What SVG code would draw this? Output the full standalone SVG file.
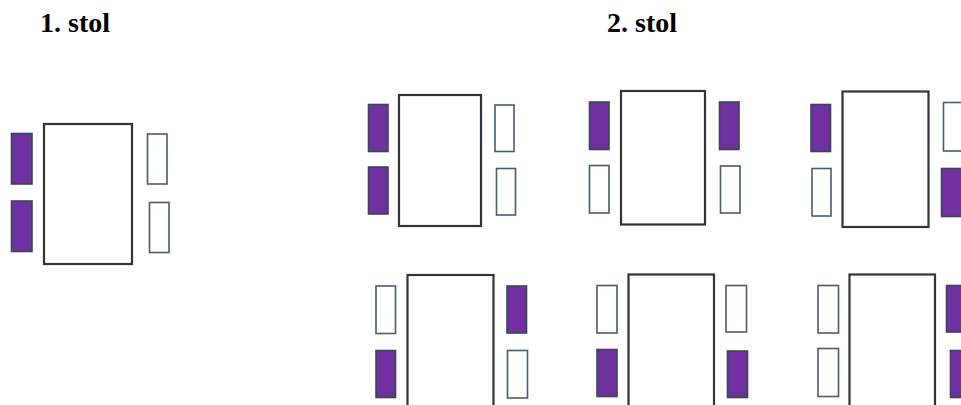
<svg xmlns="http://www.w3.org/2000/svg" width="961" height="405" viewBox="0 0 961 405">
<style>
.t{fill:#fff;stroke:#333;stroke-width:2.2}
.p{fill:#7030A0;stroke:#3a4658;stroke-width:1.6}
.w{fill:#fff;stroke:#4a5a70;stroke-width:1.6}
.lbl{font-family:"Liberation Serif","Times New Roman",serif;font-weight:bold;font-size:28px;fill:#000}
</style>
<rect width="961" height="405" fill="#fff"/>
<text class="lbl" x="40" y="32">1. stol</text>
<text class="lbl" x="607" y="32">2. stol</text>
<g id="table1">
<rect class="t" x="44" y="124" width="88" height="140"/>
<rect class="p" x="11.5" y="133.5" width="20.5" height="50.5"/>
<rect class="p" x="11.5" y="201" width="20.5" height="50.5"/>
<rect class="w" x="147.5" y="134" width="19.5" height="50"/>
<rect class="w" x="149.5" y="202.5" width="19.5" height="50"/>
</g>
<g id="table2a">
<rect class="t" x="399" y="95" width="82" height="131"/>
<rect class="p" x="368.5" y="104.5" width="19.5" height="47"/>
<rect class="p" x="368.5" y="167" width="19.5" height="47"/>
<rect class="w" x="495" y="105" width="19" height="46.5"/>
<rect class="w" x="496.5" y="168.5" width="19" height="46.5"/>
</g>
<g id="table2b">
<rect class="t" x="621" y="91" width="84" height="133.5"/>
<rect class="p" x="589.5" y="102" width="19.5" height="47.5"/>
<rect class="w" x="589.5" y="165.5" width="19.5" height="47.5"/>
<rect class="p" x="719.5" y="102" width="19.5" height="47.5"/>
<rect class="w" x="720.5" y="166" width="19.5" height="47"/>
</g>
<g id="table2c">
<rect class="t" x="842.5" y="91.5" width="86" height="135.5"/>
<rect class="p" x="811" y="104.5" width="19.5" height="47"/>
<rect class="w" x="812" y="168.5" width="19" height="47.5"/>
<rect class="w" x="943.5" y="102.5" width="22" height="48.5"/>
<rect class="p" x="941.5" y="168.5" width="24" height="48"/>
</g>
<g id="table2d">
<rect class="t" x="407.5" y="275" width="86" height="140"/>
<rect class="w" x="376" y="286" width="19.5" height="47.5"/>
<rect class="p" x="376" y="350.5" width="19.5" height="47"/>
<rect class="p" x="507" y="286" width="19.5" height="47"/>
<rect class="w" x="507.5" y="350.5" width="20" height="47.5"/>
</g>
<g id="table2e">
<rect class="t" x="628.5" y="274.5" width="85.5" height="140"/>
<rect class="w" x="597" y="285.5" width="20" height="47.5"/>
<rect class="p" x="597" y="349.5" width="20" height="47"/>
<rect class="w" x="726" y="285.5" width="20.5" height="46.5"/>
<rect class="p" x="727.5" y="351" width="20" height="46.5"/>
</g>
<g id="table2f">
<rect class="t" x="849.5" y="274.5" width="85.5" height="140"/>
<rect class="w" x="818" y="285.5" width="20.5" height="47.5"/>
<rect class="w" x="818" y="348.5" width="20.5" height="48"/>
<rect class="p" x="946.5" y="285.5" width="20" height="46.5"/>
<rect class="p" x="950.5" y="350.5" width="20" height="47"/>
</g>
</svg>
